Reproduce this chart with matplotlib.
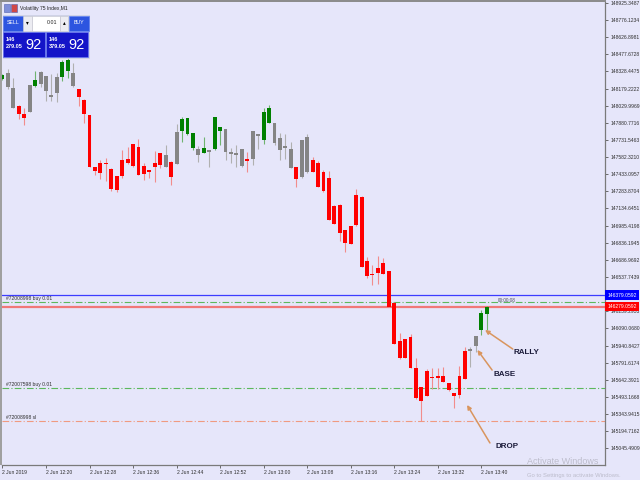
import matplotlib
matplotlib.use('Agg')
import matplotlib.pyplot as plt
import matplotlib.patches as mpatches
import numpy as np

plt.rcParams['font.family'] = ['Liberation Sans', 'DejaVu Sans']

# Volatility 75 Index, M1 candles (2 Jun 2019 12:12 .. 13:41)
opens = [148263, 148312, 148184, 148030, 147960, 147975, 148199, 148216, 148291, 148123,
         148138, 148283, 148332, 148315, 148173, 148082, 147946, 147493, 147528, 147533,
         147481, 147418, 147560, 147568, 147694, 147668, 147505, 147470, 147528, 147618,
         147499, 147542, 147519, 147812, 147925, 147795, 147653, 147618, 147644, 147650,
         147844, 147827, 147629, 147618, 147650, 147566, 147566, 147781, 147734, 147882,
         147879, 147751, 147676, 147650, 147496, 147409, 147757, 147560, 147528, 147455,
         147400, 147159, 147165, 146947, 146979, 147252, 147237, 146677, 146564, 146570,
         146662, 146590, 146314, 145983, 145995, 146018, 145748, 145577, 145504, 145669,
         145673, 145675, 145612, 145525, 145510, 145646, 145893, 145937, 146076, 146215]
highs = [148306, 148350, 148271, 148032, 148012, 148210, 148335, 148328, 148293, 148306,
         148312, 148428, 148445, 148402, 148175, 148084, 147949, 147496, 147557, 147577,
         147483, 147420, 147644, 147673, 147696, 147742, 147531, 147472, 147635, 147620,
         147688, 147544, 147868, 147931, 147927, 147796, 147681, 147757, 147646, 147931,
         147846, 147829, 147661, 147688, 147653, 147624, 147810, 147783, 148007, 148036,
         147881, 147789, 147781, 147711, 147500, 147733, 147786, 147586, 147548, 147470,
         147461, 147161, 147176, 146949, 146982, 147304, 147239, 146709, 146642, 146721,
         146701, 146592, 146316, 146052, 145998, 146039, 145829, 145579, 145734, 145745,
         145748, 145754, 145614, 145530, 145762, 145925, 145925, 146028, 146250, 146281]
lows = [148254, 148175, 148006, 147914, 147862, 147971, 148197, 148197, 148071, 148071,
        148065, 148248, 148274, 148193, 148027, 147882, 147492, 147426, 147391, 147377,
        147287, 147278, 147400, 147522, 147500, 147422, 147383, 147400, 147368, 147487,
        147496, 147339, 147518, 147716, 147779, 147644, 147537, 147616, 147499, 147648,
        147688, 147557, 147528, 147499, 147500, 147450, 147516, 147650, 147696, 147879,
        147688, 147557, 147566, 147483, 147324, 147404, 147448, 147450, 147322, 147276,
        147034, 146997, 146851, 146753, 146823, 146986, 146622, 146532, 146468, 146474,
        146561, 146276, 145950, 145821, 145832, 145745, 145479, 145286, 145501, 145559,
        145559, 145619, 145545, 145396, 145481, 145645, 145756, 145882, 146032, 146076]
closes = [148297, 148190, 148010, 147955, 147925, 148208, 148251, 148323, 148158, 148106,
          148280, 148408, 148431, 148199, 148106, 147955, 147493, 147461, 147444, 147519,
          147304, 147296, 147420, 147528, 147505, 147424, 147432, 147450, 147493, 147516,
          147600, 147411, 147801, 147914, 147781, 147659, 147598, 147659, 147624, 147929,
          147810, 147629, 147612, 147603, 147505, 147546, 147807, 147769, 147975, 148007,
          147708, 147644, 147659, 147485, 147394, 147731, 147452, 147452, 147324, 147289,
          147037, 146999, 146924, 146831, 146825, 146988, 146625, 146546, 146555, 146616,
          146564, 146279, 145951, 145829, 145835, 145748, 145481, 145457, 145721, 145655,
          145658, 145620, 145556, 145501, 145675, 145896, 145908, 146026, 146227, 146279]
# g = green, r = red, n = grey (neutral)
candle_kind = ("gnnrrngnnnnggn" "rrrrrrrrrrrrrrrr" "nrn" "gggngngg" "nnnnr" "nngg"
               "nnnnrnn" "rrrrrrrrrrrrrrrrrrrrrrrrrrrrr" "nngg")

time_pos = [0, 8, 16, 24, 32, 40, 48, 56, 64, 72, 80, 88]
time_labels = ["2 Jun 2019", "2 Jun 12:20", "2 Jun 12:28", "2 Jun 12:36", "2 Jun 12:44",
               "2 Jun 12:52", "2 Jun 13:00", "2 Jun 13:08", "2 Jun 13:16", "2 Jun 13:24",
               "2 Jun 13:32", "2 Jun 13:40"]
price_ticks = [145045.4909, 145194.7162, 145343.9415, 145493.1668, 145642.3921, 145791.6174,
               145940.8427, 146090.0680, 146239.2933, 146388.5186, 146537.7439, 146686.9692,
               146836.1945, 146985.4198, 147134.6451, 147283.8704, 147433.0957, 147582.3210,
               147731.5463, 147880.7716, 148029.9969, 148179.2222, 148328.4475, 148477.6728,
               148626.8981, 148776.1234, 148925.3487]

bid = 146279.0592
ask = 146379.0592
order_labels = ["#72008998 buy 0.01", "#72007598 buy 0.01", "#72008998 sl"]
order_prices = [146317, 145568, 145283]
order_colours = ['#5cb85c', '#5cb85c', '#f09a80']

BG = '#e6e6fa'
body_col = {'g': '#008000', 'r': '#ff0000', 'n': '#858585'}
wick_col = {'g': '#6fb36f', 'r': '#f28c8c', 'n': '#b0b0b0'}

fig = plt.figure(figsize=(6.4, 4.8), dpi=100, facecolor=BG)
ax = fig.add_axes([2 / 640, 1 - 464.5 / 480, 603 / 640, 462.5 / 480], facecolor=BG)

x = np.arange(len(opens))
o = np.array(opens, float)
c = np.array(closes, float)
lo = np.minimum(o, c)
hi = np.maximum(o, c)
ax.vlines(x, lows, highs, colors=[wick_col[k] for k in candle_kind], lw=0.8, zorder=2)
ax.bar(x, np.maximum(hi - lo, 12), bottom=lo, width=0.72,
       color=[body_col[k] for k in candle_kind], linewidth=0, zorder=3)

# ask / bid / order lines
ax.axhline(ask, color='#3c3cff', lw=0.9, zorder=1)
ax.axhline(bid, color='#f07878', lw=1.6, zorder=1)
for lab, p, col in zip(order_labels, order_prices, order_colours):
    ax.axhline(p, color=col, lw=0.8, ls=(0, (6, 2, 1, 2)), zorder=1)
    ax.annotate(lab, xy=(0, p), xycoords=ax.get_yaxis_transform(), xytext=(3, 0.8),
                textcoords='offset points', fontsize=3.6, color='#303030', va='bottom')
ax.text(91, ask - 45, "00:00:08", fontsize=3.4, color='#505060', va='center')

# rally-base-drop notes
arrow = dict(arrowstyle='-|>', color='#d9955e', lw=1.1, mutation_scale=6, shrinkA=0, shrinkB=0)
ax.annotate('', xy=(88.7, 146076), xytext=(93.8, 145910), arrowprops=arrow)
ax.annotate('', xy=(87.3, 145902), xytext=(90.0, 145727), arrowprops=arrow)
ax.annotate('', xy=(85.4, 145423), xytext=(89.6, 145092), arrowprops=arrow)
for lab, px, py in [("RALLY", 94.0, 145884), ("BASE", 90.3, 145684), ("DROP", 90.6, 145065)]:
    ax.text(px, py, lab, fontsize=5.8, fontweight='bold', color='#1b1b3a', va='center')

ax.set_xlim(-0.09, 110.75)
ax.set_ylim(144904.3, 148933.3)
for s in ['top', 'left']:
    ax.spines[s].set_visible(False)
for s in ['right', 'bottom']:
    ax.spines[s].set_color('#7a7a7a')
    ax.spines[s].set_linewidth(0.9)
ax.yaxis.tick_right()
ax.set_yticks(price_ticks)
# the tick hidden under the ask box keeps its mark but shows no text
ax.set_yticklabels(["" if abs(v - ask) < 40 else f"{v:.4f}" for v in price_ticks])
ax.set_xticks(time_pos)
ax.set_xticklabels(time_labels)
for lbl in ax.get_xticklabels():
    lbl.set_horizontalalignment('left')
ax.tick_params(axis='both', length=2.5, width=0.6, color='#555555', labelsize=3.6,
               labelcolor='#303030', pad=1.2)

for p, col in [(ask, '#0000ff'), (bid, '#ff0000')]:
    ax.text(1.004, p, f"{p:.4f}", transform=ax.get_yaxis_transform(), color='white',
            fontsize=3.6, va='center', ha='left', clip_on=False, zorder=6,
            bbox=dict(boxstyle='square,pad=0.45', fc=col, ec='none'))

# window chrome / one-click trading panel / watermark (pixel coords)
ui = fig.add_axes([0, 0, 1, 1])
ui.set_xlim(0, 640)
ui.set_ylim(480, 0)
ui.axis('off')
ui.add_patch(mpatches.Rectangle((0, 0), 2, 465, fc='#a0a0a0', ec='none'))
ui.add_patch(mpatches.Rectangle((0, 0), 606, 1.5, fc='#8c8c8c', ec='none'))
ui.add_patch(mpatches.Rectangle((3.5, 4), 6, 8, fc='#7f8fd8', ec='#5060b0', lw=0.4))
ui.add_patch(mpatches.Rectangle((11, 4), 6, 8, fc='#d04848', ec='#5060b0', lw=0.4))
ui.text(20, 8.3, "Volatility 75 Index,M1", fontsize=3.6, color='#202020', va='center')

ui.add_patch(mpatches.Rectangle((2.5, 15), 86, 42.5, fc='#dde2f4', ec='#c8cce0', lw=0.5))
for bx, lab in [(3, "SELL"), (69, "BUY")]:
    ui.add_patch(mpatches.Rectangle((bx, 15.5), 19.5, 15, fc='#2d55e0', ec='#6080f0', lw=0.5))
    ui.text(bx + 9.75, 23, lab, fontsize=3.8, color='white', ha='center', va='center')
ui.add_patch(mpatches.Rectangle((23.3, 15.5), 9, 15, fc='#ececf2', ec='#c0c0cc', lw=0.4))
ui.add_patch(mpatches.Rectangle((32.3, 15.5), 27.7, 15, fc='white', ec='#c0c0cc', lw=0.4))
ui.add_patch(mpatches.Rectangle((60, 15.5), 8.3, 15, fc='#ececf2', ec='#c0c0cc', lw=0.4))
ui.text(27.8, 23, "\u25be", fontsize=4, family='DejaVu Sans', ha='center', va='center')
ui.text(64.2, 23, "\u25b4", fontsize=4, family='DejaVu Sans', ha='center', va='center')
ui.text(57, 23, "0.01", fontsize=3.8, color='#202020', ha='right', va='center')
for bx, bw, quote in [(3, 41.8, ("146", "279.05")), (45.8, 42.5, ("146", "379.05"))]:
    ui.add_patch(mpatches.Rectangle((bx, 31.7), bw, 25.6, fc='#1414c8', ec='#6070f0', lw=0.5))
    ui.text(bx + 3, 39.8, quote[0], fontsize=4, color='white', fontweight='bold', va='center')
    ui.text(bx + 3, 46, quote[1], fontsize=4, color='white', fontweight='bold', va='center')
    ui.text(bx + 22.5, 45, "92", fontsize=10.5, color='white', va='center')

ui.text(527, 461, "Activate Windows", fontsize=6.5, color='#bcbccb', va='center')
ui.text(527, 475.5, "Go to Settings to activate Windows.", fontsize=4.2, color='#bcbccb',
        va='center')

fig.savefig('out.png', dpi=100, facecolor=BG)
